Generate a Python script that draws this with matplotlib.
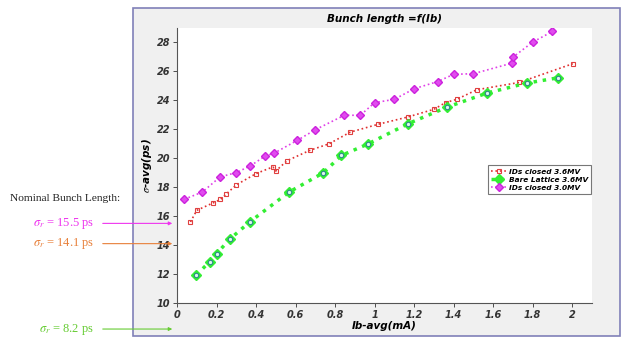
import matplotlib.pyplot as plt
from matplotlib.patches import Rectangle

plt.rcParams['mathtext.fontset'] = 'stix'

# IDs closed 3.6MV
ib_red = [0.068, 0.10, 0.18, 0.22, 0.247, 0.30, 0.40, 0.485, 0.50, 0.557, 0.673, 0.77,
          0.876, 1.016, 1.168, 1.30, 1.36, 1.416, 1.517, 1.733, 2.003]
sig_red = [15.6, 16.4, 16.9, 17.15, 17.5, 18.16, 18.94, 19.4, 19.12, 19.83, 20.55, 21.0,
           21.8, 22.34, 22.85, 23.38, 23.85, 24.07, 24.73, 25.24, 26.53]

# Bare Lattice 3.6MV
ib_green = [0.098, 0.165, 0.20, 0.267, 0.368, 0.567, 0.74, 0.832, 0.967, 1.17, 1.369,
            1.568, 1.769, 1.93]
sig_green = [11.93, 12.85, 13.4, 14.41, 15.6, 17.66, 18.99, 20.19, 20.99, 22.39, 23.54,
             24.5, 25.19, 25.56]

# IDs closed 3.0MV
ib_mag = [0.037, 0.128, 0.218, 0.30, 0.371, 0.447, 0.49, 0.609, 0.70, 0.847, 0.928, 1.0,
          1.10, 1.20, 1.32, 1.40, 1.50, 1.695, 1.70, 1.80, 1.90]
sig_mag = [17.17, 17.66, 18.71, 19.01, 19.47, 20.16, 20.34, 21.24, 21.97, 22.97, 22.97, 23.84,
           24.07, 24.8, 25.3, 25.8, 25.84, 26.57, 26.98, 28.02, 28.76]

nominal = [15.5, 14.1, 8.2]
nominal_lbl = [r'$\sigma_r$ = 15.5 ps', r'$\sigma_r$ = 14.1 ps', r'$\sigma_r$ = 8.2 ps']
nominal_col = ['#ee33ee', '#e8803a', '#66cc33']

fig = plt.figure(figsize=(6.22, 3.38), dpi=100)
fig.patches.append(Rectangle((0.214, 0.006), 0.783, 0.970, transform=fig.transFigure,
                             facecolor='#f0f0f0', edgecolor='#8080b8', lw=1.2, zorder=-5))
ax = fig.add_axes([0.2846, 0.1036, 0.667, 0.8136])
ax.set_facecolor('white')

fp = dict(fontsize=7, fontweight='bold', fontstyle='italic')

ax.plot(ib_red, sig_red, ':', color='#e03030', lw=1.2, marker='s', ms=3.5,
        mfc='none', mec='#e04040', mew=0.8, label='IDs closed 3.6MV')
ax.plot(ib_green, sig_green, ':', color='#33ee33', lw=2.5, marker='D', ms=5,
        mfc='#33ee33', mec='#33ee33', label='Bare Lattice 3.6MV')
ax.plot(ib_green, sig_green, 'none', marker='o', ms=3.2, mfc='#ddf5ee', mec='#2a8a8a', mew=0.8)
ax.plot(ib_mag, sig_mag, ':', color='#e040e8', lw=1.2, marker='D', ms=4.5,
        mfc='#e04cee', mec='#cc22dd', label='IDs closed 3.0MV')

ax.set_xlim(0, 2.1)
ax.set_ylim(10, 29)
ax.set_xticks([0, 0.2, 0.4, 0.6, 0.8, 1, 1.2, 1.4, 1.6, 1.8, 2])
ax.set_xticklabels(['0', '0.2', '0.4', '0.6', '0.8', '1', '1.2', '1.4', '1.6', '1.8', '2'], **fp)
ax.set_yticks(range(10, 29, 2))
ax.set_yticklabels([str(v) for v in range(10, 29, 2)], **fp)
ax.tick_params(length=3, width=0.6, colors='#333333', pad=2)
for s in ['top', 'right']:
    ax.spines[s].set_visible(False)
for s in ['left', 'bottom']:
    ax.spines[s].set_color('#555555')
ax.set_title('Bunch length =f(Ib)', fontsize=7.5, fontweight='bold', fontstyle='italic', pad=4)
ax.set_xlabel('Ib-avg(mA)', fontsize=7.5, fontweight='bold', fontstyle='italic', labelpad=1)
ax.set_ylabel(r'$\sigma$-avg(ps)', fontsize=7.5, fontweight='bold', fontstyle='italic', labelpad=2)

leg = ax.legend(loc='upper right', bbox_to_anchor=(0.998, 0.50), borderaxespad=0,
                prop=dict(size=5.3, weight='bold', style='italic'), frameon=True,
                fancybox=False, handlelength=2.0, handletextpad=0.4, borderpad=0.4,
                labelspacing=0.25)
leg.get_frame().set_edgecolor('#555555')
leg.get_frame().set_linewidth(0.8)

fig.text(0.016, 0.405, 'Nominal Bunch Length:', family='Liberation Serif', fontsize=8.2,
         color='#222222')
for y, lbl, c in zip(nominal, nominal_lbl, nominal_col):
    ax.annotate('', xy=(-0.01, y), xytext=(-0.39, y), annotation_clip=False,
                arrowprops=dict(arrowstyle='-|>', color=c, lw=0.8, mutation_scale=5))
    ax.text(-0.42, y, lbl, color=c, fontsize=9, family='Liberation Serif',
            ha='right', va='center', clip_on=False)

fig.savefig('out.png', dpi=100)
